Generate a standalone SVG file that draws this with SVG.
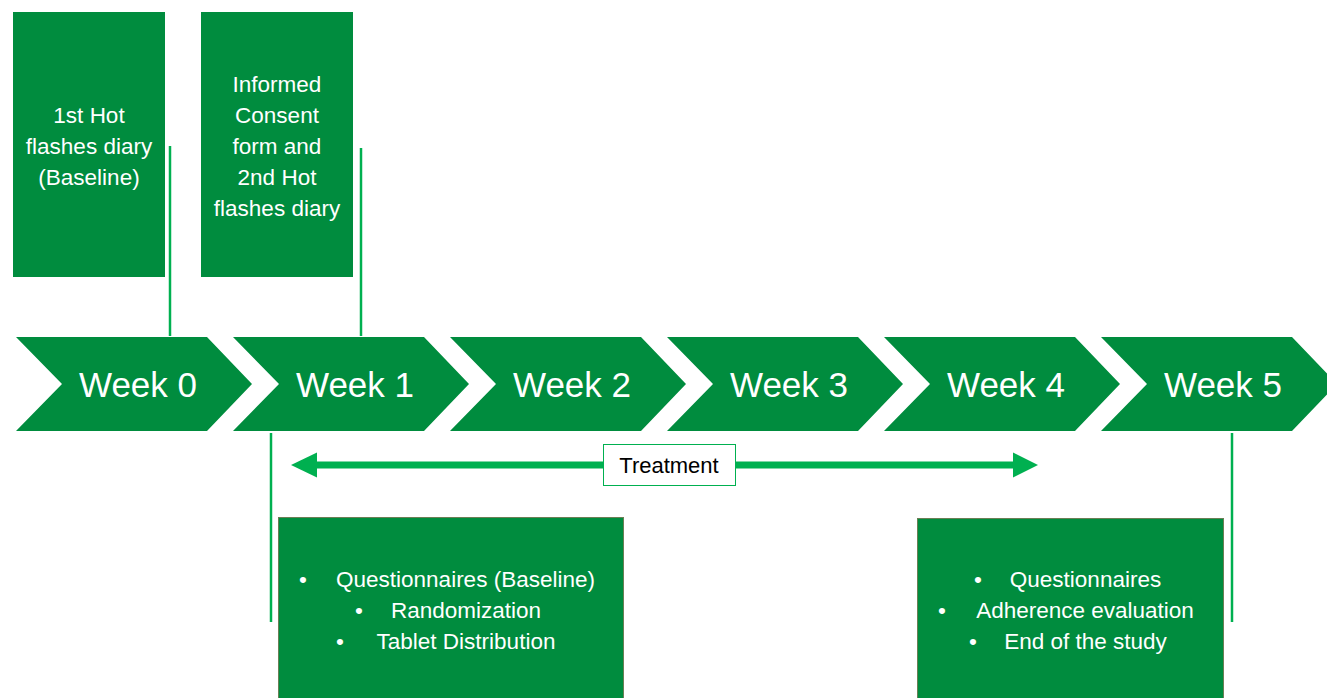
<svg xmlns="http://www.w3.org/2000/svg" width="1327" height="698" viewBox="0 0 1327 698">
<style>
.box{fill:#008c3e}
.bbox{fill:#008c3e;stroke:#6b7f55;stroke-width:1}
.chev{fill:#008c3e}
.t{font-family:"Liberation Sans",Arial,sans-serif;fill:#fff;text-anchor:middle}
.top{font-size:22.5px}
.wk{font-size:35px}
.bl{font-size:22.5px}
.ln{stroke:#00b050;stroke-width:2.5;fill:none}
</style>
<defs>
<polygon id="chev" points="0,0 191,0 236,47 191,94 0,94 46,47"/>
</defs>
<rect width="1327" height="698" fill="#fff"/>
<g id="connectors">
<line class="ln" x1="170" y1="146" x2="170" y2="336"/>
<line class="ln" x1="361" y1="148" x2="361" y2="336"/>
<line class="ln" x1="271" y1="433" x2="271" y2="622"/>
<line class="ln" x1="1232" y1="433" x2="1232" y2="622"/>
<g id="treatment-arrow">
<rect x="316" y="461.5" width="698" height="7" fill="#00b050"/>
<polygon points="291,465 317,452.5 317,477.5" fill="#00b050"/>
<polygon points="1038,465 1013,452.5 1013,477.5" fill="#00b050"/>
</g>
</g>
<g id="box-week0-top">
<rect class="box" x="13" y="12" width="152" height="265"/>
<text class="t top" x="89" y="123">1st Hot</text>
<text class="t top" x="89" y="154">flashes diary</text>
<text class="t top" x="89" y="185">(Baseline)</text>
</g>
<g id="box-week1-top">
<rect class="box" x="201" y="12" width="152" height="265"/>
<text class="t top" x="277" y="92">Informed</text>
<text class="t top" x="277" y="123">Consent</text>
<text class="t top" x="277" y="154">form and</text>
<text class="t top" x="277" y="185">2nd Hot</text>
<text class="t top" x="277" y="216">flashes diary</text>
</g>
<g id="week0"><use href="#chev" class="chev" x="16" y="337"/><text class="t wk" x="138" y="397">Week 0</text></g>
<g id="week1"><use href="#chev" class="chev" x="233" y="337"/><text class="t wk" x="355" y="397">Week 1</text></g>
<g id="week2"><use href="#chev" class="chev" x="450" y="337"/><text class="t wk" x="572" y="397">Week 2</text></g>
<g id="week3"><use href="#chev" class="chev" x="667" y="337"/><text class="t wk" x="789" y="397">Week 3</text></g>
<g id="week4"><use href="#chev" class="chev" x="884" y="337"/><text class="t wk" x="1006" y="397">Week 4</text></g>
<g id="week5"><use href="#chev" class="chev" x="1101" y="337"/><text class="t wk" x="1223" y="397">Week 5</text></g>
<g id="treatment-label">
<rect x="603.5" y="444.5" width="132" height="41" fill="#fff" stroke="#00b050" stroke-width="1"/>
<text x="669" y="473" font-family="Liberation Sans,Arial,sans-serif" font-size="22" fill="#000" text-anchor="middle">Treatment</text>
</g>
<g id="box-week1-bottom">
<rect class="bbox" x="278.5" y="517.5" width="345" height="190"/>
<text class="t bl" x="303" y="587">•</text><text class="t bl" x="465.5" y="587">Questionnaires (Baseline)</text>
<text class="t bl" x="359" y="618">•</text><text class="t bl" x="466" y="618">Randomization</text>
<text class="t bl" x="340" y="649">•</text><text class="t bl" x="466" y="649">Tablet Distribution</text>
</g>
<g id="box-week5-bottom">
<rect class="bbox" x="917.5" y="518.5" width="306" height="190"/>
<text class="t bl" x="978" y="587">•</text><text class="t bl" x="1085.5" y="587">Questionnaires</text>
<text class="t bl" x="942" y="618">•</text><text class="t bl" x="1085" y="618">Adherence evaluation</text>
<text class="t bl" x="973" y="649">•</text><text class="t bl" x="1085.5" y="649">End of the study</text>
</g>
</svg>
